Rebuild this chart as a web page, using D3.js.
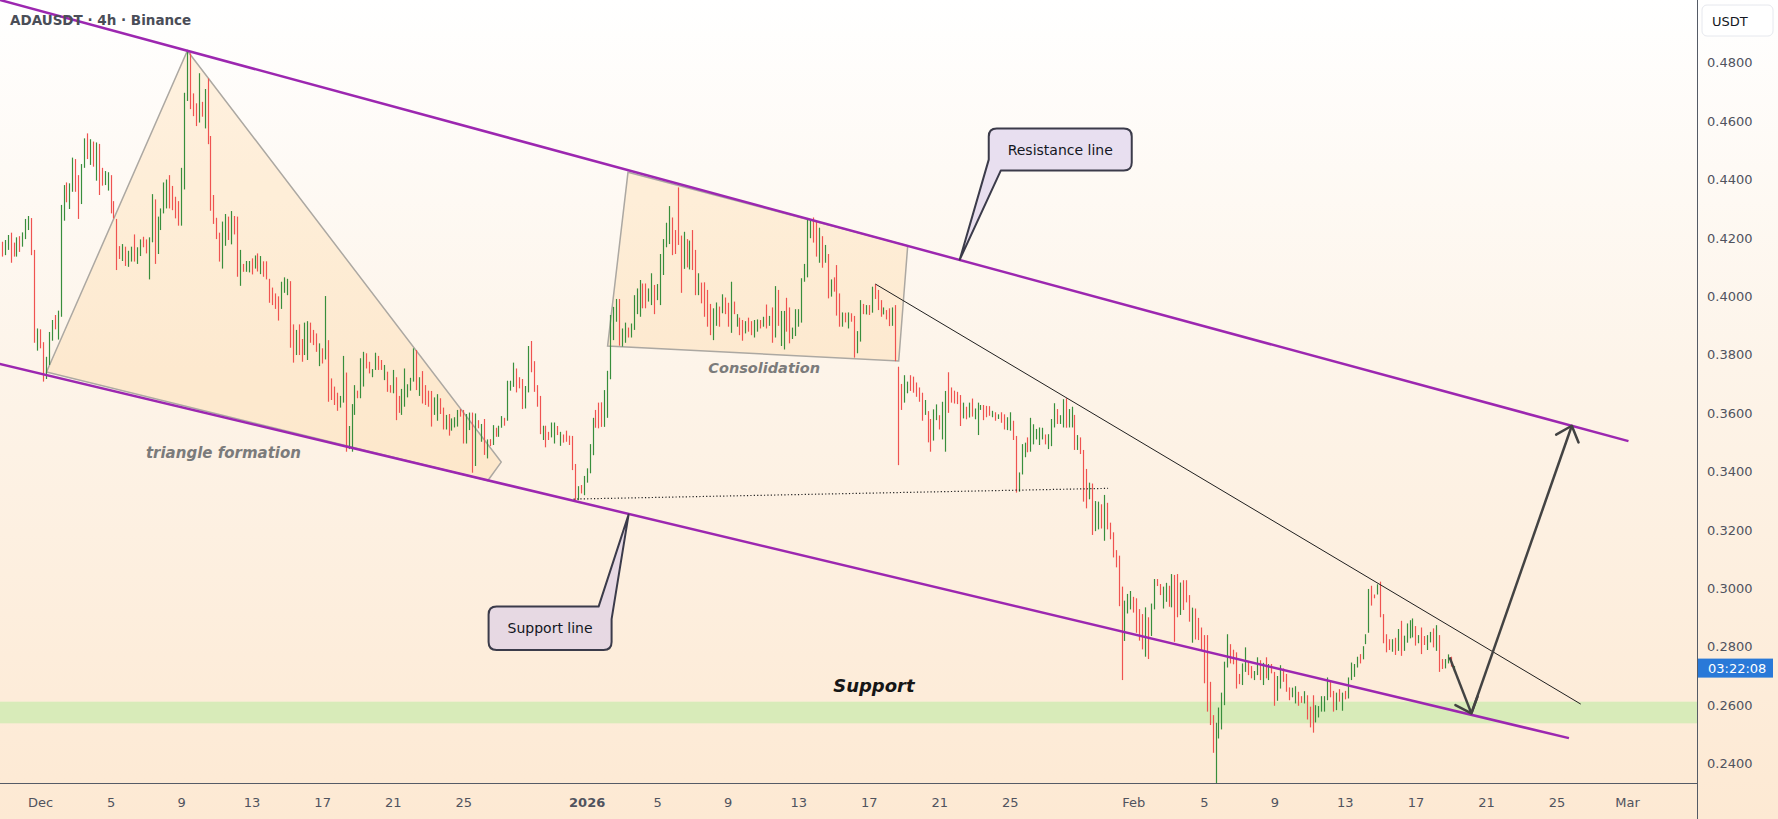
<!DOCTYPE html>
<html>
<head>
<meta charset="utf-8">
<script src="https://cdn.jsdelivr.net/npm/d3@7"></script>
<style>
  body { margin: 0; background: #fff; }
  svg { display: block; }
</style>
</head>
<body>
<svg width="1778" height="819"></svg>
<script>
// ADAUSDT 4h bars. First bar opens 28 Nov 2025 20:00.
var highs = [
  0.4187,0.4193,0.4210,0.4218,0.4184,0.4202,0.4206,0.4219,0.4265,0.4275,
  0.4268,0.4159,0.3890,0.3887,0.3843,0.3793,0.3878,0.3919,0.3936,0.3951,
  0.4313,0.4381,0.4390,0.4387,0.4475,0.4470,0.4415,0.4453,0.4541,0.4558,
  0.4538,0.4530,0.4527,0.4522,0.4440,0.4429,0.4425,0.4415,0.4326,0.4265,
  0.4172,0.4179,0.4170,0.4156,0.4170,0.4212,0.4168,0.4195,0.4204,0.4195,
  0.4202,0.4350,0.4332,0.4273,0.4301,0.4390,0.4400,0.4415,0.4378,0.4341,
  0.4326,0.4440,0.4697,0.4840,0.4832,0.4695,0.4661,0.4764,0.4666,0.4710,
  0.4746,0.4549,0.4347,0.4269,0.4218,0.4256,0.4282,0.4273,0.4292,0.4275,
  0.4273,0.4159,0.4111,0.4121,0.4121,0.4130,0.4140,0.4147,0.4138,0.4120,
  0.4120,0.4060,0.4030,0.4010,0.4000,0.4050,0.4065,0.4060,0.4052,0.3904,
  0.3885,0.3904,0.3854,0.3910,0.3915,0.3910,0.3885,0.3873,0.3839,0.3822,
  0.4001,0.3850,0.3719,0.3691,0.3670,0.3659,0.3796,0.3739,0.3556,0.3631,
  0.3696,0.3677,0.3788,0.3810,0.3805,0.3776,0.3751,0.3807,0.3796,0.3782,
  0.3765,0.3742,0.3696,0.3748,0.3723,0.3659,0.3683,0.3753,0.3699,0.3721,
  0.3822,0.3816,0.3723,0.3744,0.3696,0.3677,0.3676,0.3654,0.3665,0.3651,
  0.3619,0.3594,0.3597,0.3582,0.3586,0.3611,0.3614,0.3611,0.3597,0.3602,
  0.3602,0.3599,0.3576,0.3563,0.3580,0.3510,0.3511,0.3559,0.3550,0.3557,
  0.3590,0.3584,0.3711,0.3711,0.3773,0.3753,0.3723,0.3717,0.3693,0.3830,
  0.3847,0.3778,0.3696,0.3659,0.3557,0.3557,0.3536,0.3568,0.3568,0.3556,
  0.3536,0.3527,0.3540,0.3523,0.3522,0.3426,0.3350,0.3354,0.3385,0.3411,
  0.3494,0.3584,0.3611,0.3636,0.3637,0.3679,0.3745,0.3936,0.3964,0.3991,
  0.3991,0.3890,0.3910,0.3893,0.3907,0.4004,0.4027,0.4056,0.4044,0.4044,
  0.4027,0.4079,0.4039,0.4042,0.4145,0.4196,0.4252,0.4309,0.4270,0.4227,
  0.4373,0.4208,0.4221,0.4196,0.4191,0.4227,0.4159,0.4079,0.4047,0.4048,
  0.4022,0.3974,0.3959,0.3979,0.3965,0.4007,0.3996,0.3978,0.4050,0.3982,
  0.3939,0.3927,0.3919,0.3915,0.3927,0.3915,0.3919,0.3921,0.3919,0.3930,
  0.3972,0.3933,0.3962,0.4035,0.4022,0.3950,0.3950,0.3995,0.3962,0.3893,
  0.3956,0.3956,0.4062,0.4111,0.4267,0.4264,0.4270,0.4258,0.4235,0.4206,
  0.4176,0.4145,0.4058,0.4065,0.4107,0.4010,0.3945,0.3944,0.3945,0.3942,
  0.3933,0.3881,0.3987,0.3974,0.3970,0.3970,0.4033,0.4042,0.4022,0.3987,
  0.3962,0.3953,0.3959,0.3962,0.3970,0.3759,0.3700,0.3730,0.3708,0.3730,
  0.3725,0.3705,0.3688,0.3670,0.3645,0.3607,0.3580,0.3613,0.3630,0.3593,
  0.3639,0.3676,0.3740,0.3688,0.3677,0.3673,0.3662,0.3636,0.3622,0.3636,
  0.3650,0.3616,0.3636,0.3628,0.3628,0.3625,0.3624,0.3608,0.3603,0.3596,
  0.3603,0.3596,0.3586,0.3603,0.3574,0.3522,0.3397,0.3494,0.3499,0.3517,
  0.3584,0.3562,0.3546,0.3551,0.3550,0.3527,0.3528,0.3580,0.3634,0.3614,
  0.3593,0.3648,0.3651,0.3614,0.3622,0.3594,0.3525,0.3517,0.3474,0.3409,
  0.3362,0.3359,0.3299,0.3297,0.3288,0.3320,0.3293,0.3225,0.3192,0.3131,
  0.3112,0.3006,0.2958,0.2981,0.2991,0.2971,0.2966,0.2929,0.2912,0.2935,
  0.2901,0.2948,0.3032,0.3032,0.3015,0.3006,0.3019,0.3009,0.3049,0.3046,
  0.3049,0.3020,0.3028,0.3028,0.2977,0.2934,0.2931,0.2899,0.2866,0.2840,
  0.2840,0.2680,0.2566,0.2540,0.2592,0.2643,0.2749,0.2843,0.2809,0.2790,
  0.2781,0.2707,0.2743,0.2798,0.2749,0.2734,0.2717,0.2764,0.2754,0.2745,
  0.2764,0.2741,0.2741,0.2714,0.2700,0.2737,0.2726,0.2707,0.2661,0.2660,
  0.2665,0.2646,0.2631,0.2648,0.2634,0.2595,0.2634,0.2600,0.2597,0.2631,
  0.2631,0.2695,0.2684,0.2649,0.2643,0.2655,0.2643,0.2649,0.2695,0.2746,
  0.2741,0.2766,0.2775,0.2802,0.2843,0.2998,0.3009,0.2979,0.3014,0.3023,
  0.2912,0.2843,0.2826,0.2826,0.2831,0.2861,0.2889,0.2838,0.2880,0.2891,
  0.2897,0.2871,0.2840,0.2866,0.2837,0.2840,0.2851,0.2863,0.2874,0.2840,
  0.2758,0.2758,0.2774,0.2766,0.2734
];
var lows = [
  0.4136,0.4141,0.4159,0.4115,0.4136,0.4136,0.4152,0.4170,0.4196,0.4227,
  0.4141,0.3841,0.3814,0.3822,0.3708,0.3717,0.3765,0.3848,0.3887,0.3852,
  0.3930,0.4259,0.4322,0.4299,0.4358,0.4358,0.4265,0.4316,0.4440,0.4470,
  0.4450,0.4444,0.4396,0.4347,0.4379,0.4381,0.4362,0.4284,0.4267,0.4090,
  0.4128,0.4121,0.4104,0.4101,0.4119,0.4119,0.4111,0.4138,0.4168,0.4147,
  0.4058,0.4185,0.4111,0.4145,0.4227,0.4284,0.4301,0.4301,0.4295,0.4267,
  0.4242,0.4242,0.4366,0.4669,0.4641,0.4617,0.4583,0.4595,0.4615,0.4575,
  0.4521,0.4293,0.4248,0.4196,0.4119,0.4095,0.4173,0.4193,0.4178,0.4212,
  0.4067,0.4036,0.4084,0.4084,0.4082,0.4075,0.4095,0.4085,0.4076,0.4067,
  0.4058,0.3978,0.3970,0.3957,0.3917,0.3957,0.4012,0.4004,0.3824,0.3773,
  0.3799,0.3799,0.3776,0.3799,0.3782,0.3841,0.3833,0.3810,0.3761,0.3770,
  0.3784,0.3639,0.3645,0.3628,0.3608,0.3619,0.3636,0.3468,0.3477,0.3468,
  0.3594,0.3651,0.3651,0.3691,0.3753,0.3736,0.3723,0.3748,0.3748,0.3748,
  0.3713,0.3673,0.3670,0.3668,0.3576,0.3601,0.3594,0.3622,0.3654,0.3677,
  0.3708,0.3679,0.3659,0.3633,0.3628,0.3622,0.3554,0.3594,0.3574,0.3597,
  0.3544,0.3544,0.3523,0.3540,0.3551,0.3554,0.3588,0.3496,0.3496,0.3542,
  0.3396,0.3419,0.3548,0.3502,0.3457,0.3445,0.3487,0.3491,0.3519,0.3519,
  0.3550,0.3557,0.3574,0.3677,0.3690,0.3671,0.3685,0.3614,0.3616,0.3671,
  0.3740,0.3673,0.3622,0.3528,0.3508,0.3483,0.3508,0.3517,0.3496,0.3525,
  0.3488,0.3499,0.3502,0.3491,0.3405,0.3302,0.3302,0.3325,0.3319,0.3362,
  0.3394,0.3456,0.3550,0.3548,0.3553,0.3553,0.3584,0.3716,0.3850,0.3913,
  0.3831,0.3828,0.3841,0.3859,0.3859,0.3885,0.3939,0.3930,0.3959,0.3959,
  0.3982,0.3970,0.3939,0.3987,0.3970,0.4073,0.4168,0.4179,0.4141,0.4145,
  0.4176,0.4012,0.4094,0.4099,0.4092,0.4090,0.4004,0.4004,0.3976,0.3930,
  0.3896,0.3867,0.3850,0.3899,0.3896,0.3942,0.3939,0.3896,0.3875,0.3939,
  0.3896,0.3867,0.3848,0.3873,0.3879,0.3867,0.3859,0.3879,0.3890,0.3896,
  0.3890,0.3899,0.3841,0.3859,0.3899,0.3830,0.3818,0.3879,0.3839,0.3854,
  0.3864,0.3896,0.3910,0.4050,0.4065,0.4199,0.4184,0.4136,0.4115,0.4098,
  0.4115,0.3993,0.3999,0.4016,0.3934,0.3896,0.3896,0.3911,0.3890,0.3913,
  0.3790,0.3805,0.3845,0.3939,0.3938,0.3936,0.3944,0.3991,0.3953,0.3930,
  0.3938,0.3921,0.3898,0.3899,0.3778,0.3422,0.3611,0.3636,0.3668,0.3676,
  0.3670,0.3656,0.3639,0.3574,0.3594,0.3500,0.3468,0.3506,0.3576,0.3544,
  0.3510,0.3468,0.3601,0.3636,0.3633,0.3631,0.3556,0.3582,0.3579,0.3585,
  0.3588,0.3579,0.3525,0.3611,0.3576,0.3586,0.3591,0.3586,0.3574,0.3580,
  0.3567,0.3544,0.3542,0.3540,0.3508,0.3328,0.3331,0.3390,0.3449,0.3466,
  0.3468,0.3493,0.3510,0.3491,0.3510,0.3493,0.3477,0.3487,0.3551,0.3563,
  0.3563,0.3551,0.3550,0.3551,0.3551,0.3474,0.3474,0.3460,0.3297,0.3274,
  0.3305,0.3183,0.3196,0.3202,0.3205,0.3163,0.3202,0.3168,0.3106,0.3072,
  0.2939,0.2686,0.2820,0.2914,0.2928,0.2917,0.2848,0.2821,0.2791,0.2766,
  0.2758,0.2837,0.2928,0.3008,0.2977,0.2931,0.2954,0.2937,0.2935,0.2817,
  0.2901,0.2909,0.2926,0.2952,0.2886,0.2814,0.2825,0.2823,0.2789,0.2675,
  0.2578,0.2532,0.2437,0.2332,0.2486,0.2517,0.2600,0.2729,0.2743,0.2740,
  0.2657,0.2672,0.2669,0.2714,0.2703,0.2692,0.2686,0.2703,0.2686,0.2669,
  0.2692,0.2686,0.2709,0.2598,0.2615,0.2657,0.2680,0.2646,0.2617,0.2627,
  0.2606,0.2598,0.2608,0.2606,0.2551,0.2524,0.2506,0.2541,0.2558,0.2578,
  0.2578,0.2617,0.2627,0.2578,0.2583,0.2612,0.2581,0.2620,0.2623,0.2686,
  0.2697,0.2729,0.2743,0.2757,0.2809,0.2848,0.2941,0.2966,0.2979,0.2901,
  0.2812,0.2781,0.2789,0.2783,0.2772,0.2786,0.2769,0.2786,0.2814,0.2829,
  0.2832,0.2804,0.2812,0.2775,0.2806,0.2789,0.2815,0.2798,0.2786,0.2714,
  0.2724,0.2726,0.2743,0.2732,0.2714
];
// g = bar closed up, r = bar closed down
var barDirs =
  "rggrrgrggg" + "rrgrrgggrg" + "ggrggrrggr" + "grgrrggrrr" + "rgrggrggrr" +
  "ggrggggrrr" + "rgggrrrgrg" + "rrrrrggrgr" + "rgrggrgrgr" + "rrrrrgggrr" +
  "grrggrrrgr" + "grrrrggrgg" + "grggrrggrr" + "grrgrrgggg" + "grgrrrrggr" +
  "rgrgggrrgg" + "rgrgrgrgrg" + "grgggrrrgg" + "rrrrgrrggr" + "grrrrrgrgg" +
  "ggrrrggggg" + "rggrggggrr" + "ggrgggggrr" + "rrgrgrrgrr" + "rrggrgrrgr" +
  "grrgrrggrg" + "rgrgrggrrg" + "ggggggrrgr" + "grgrrrgrgr" + "rggrgrgrrr" +
  "grrgrrrggr" + "rrrrgrrggr" + "ggrrrrrgrg" + "rgggrrrgrg" + "rrggrrgggr" +
  "gggggrgggr" + "ggrggrgrrr" + "grggrgrrrr" + "rrgggrrrrg" + "rggrrggrgr" +
  "rgrrrgrrrr" + "rrrgggggrr" + "rrggrrggrg" + "rgrrggrrrg" + "grrgrrrggg" +
  "ggrrgrgrgg" + "ggrgggrrgr" + "rrrgrgrggg" + "grgrrggrgr" + "rggrg";

var firstBar = Date.UTC(2025, 10, 28, 20);
var barHours = 4;
var lastPrice = 0.2727;
var countdown = "03:22:08";

var priceTicks = [0.24, 0.26, 0.28, 0.30, 0.32, 0.34, 0.36, 0.38, 0.40, 0.42, 0.44, 0.46, 0.48];
var dateTicks = ["2025-12-01","2025-12-05","2025-12-09","2025-12-13","2025-12-17","2025-12-21","2025-12-25",
                 "2026-01-01","2026-01-05","2026-01-09","2026-01-13","2026-01-17","2026-01-21","2026-01-25",
                 "2026-02-01","2026-02-05","2026-02-09","2026-02-13","2026-02-17","2026-02-21","2026-02-25","2026-03-01"];
var dateLabels = ["Dec","5","9","13","17","21","25","2026","5","9","13","17","21","25","Feb","5","9","13","17","21","25","Mar"];

// drawings, as [time, price]
var resistanceLine = [["2025-11-28T12:00Z", 0.50185], ["2026-03-01T02:00Z", 0.35041]];
var supportLine = [["2025-11-28T12:00Z", 0.37716], ["2026-02-25T17:00Z", 0.24873]];
var triangleShape = [["2025-12-01T08:51Z", 0.37407], ["2025-12-09T08:34Z", 0.48411], ["2025-12-27T03:45Z", 0.34325], ["2025-12-26T09:36Z", 0.33692]];
var consolidationShape = [["2026-01-03T08:17Z", 0.44247], ["2026-01-19T05:00Z", 0.41733], ["2026-01-18T16:45Z", 0.37784], ["2026-01-02T04:32Z", 0.38298]];
var trendLine = [["2026-01-17T09:02Z", 0.40421], ["2026-02-26T09:02Z", 0.26038]];
var dottedLine = [["2025-12-31T06:14Z", 0.33058], ["2026-01-30T13:42Z", 0.33425]];
var forecastPath = [["2026-02-18T22:35Z", 0.27637], ["2026-02-20T04:12Z", 0.25719], ["2026-02-25T20:53Z", 0.35568]];
var supportZone = [0.2538, 0.2612];
var resistanceTip = ["2026-01-22T03:50Z", 0.41257];
var supportTip = ["2026-01-03T09:06Z", 0.32527];
var notes = [
  { text: "triangle formation", at: ["2025-12-11T09:40Z", 0.34634], size: 15, color: "#7b7b7b" },
  { text: "Consolidation", at: ["2026-01-11T01:40Z", 0.37545], size: 14.5, color: "#7b7b7b" },
  { text: "Support", at: ["2026-01-17T07:00Z", 0.26654], size: 18, color: "#161616" }
];

var svg = d3.select("svg"),
    width = +svg.attr("width"),
    height = +svg.attr("height");
var plotW = 1697, plotH = 783;
var font = "'DejaVu Sans', Verdana, sans-serif";
var upColor = "#388e3c", downColor = "#ef5350", purple = "#9c27b0";

var x = d3.scaleUtc()
    .domain([new Date("2025-12-01T00:00Z"), new Date("2026-03-01T00:00Z")])
    .range([40, 1627]);
var y = d3.scaleLinear().domain([0.24, 0.48]).range([763.6, 62.7]);

function pt(d) { return [x(new Date(d[0])), y(d[1])]; }

// background
var defs = svg.append("defs");
var grad = defs.append("linearGradient").attr("id", "bg").attr("x1", 0).attr("y1", 0).attr("x2", 0).attr("y2", 1);
grad.append("stop").attr("offset", "0%").attr("stop-color", "#ffffff");
grad.append("stop").attr("offset", "45%").attr("stop-color", "#fdf4e9");
grad.append("stop").attr("offset", "100%").attr("stop-color", "#fde9d3");
defs.append("clipPath").attr("id", "plot").append("rect").attr("width", plotW).attr("height", plotH);

svg.append("rect").attr("width", width).attr("height", height).attr("fill", "url(#bg)");

var plot = svg.append("g").attr("clip-path", "url(#plot)");

// support zone
plot.append("rect")
    .attr("x", 0).attr("width", plotW)
    .attr("y", y(supportZone[1]))
    .attr("height", y(supportZone[0]) - y(supportZone[1]))
    .attr("fill", "#d8ebb9");

// shaded shapes
[triangleShape, consolidationShape].forEach(function(shape) {
    plot.append("path")
        .attr("d", d3.line()(shape.map(pt)) + "Z")
        .attr("fill", "rgba(255,183,77,0.16)")
        .attr("stroke", "#aca8a2")
        .attr("stroke-width", 1.5);
});

// bars
plot.append("g").selectAll("line")
    .data(highs)
    .join("line")
    .attr("x1", function(d, i) { return Math.round(x(new Date(firstBar + i * barHours * 3600e3))) + 0.5; })
    .attr("x2", function(d, i) { return Math.round(x(new Date(firstBar + i * barHours * 3600e3))) + 0.5; })
    .attr("y1", function(d) { return y(d); })
    .attr("y2", function(d, i) { return Math.max(y(lows[i]), y(d) + 1); })
    .attr("stroke", function(d, i) { return barDirs[i] === "g" ? upColor : downColor; })
    .attr("stroke-width", 1.2);

// channel
[resistanceLine, supportLine].forEach(function(l) {
    plot.append("path").attr("d", d3.line()(l.map(pt)))
        .attr("stroke", purple).attr("stroke-width", 2.5).attr("fill", "none");
});

plot.append("path").attr("d", d3.line()(trendLine.map(pt)))
    .attr("stroke", "#1f1f1f").attr("stroke-width", 1).attr("fill", "none");
plot.append("path").attr("d", d3.line()(dottedLine.map(pt)))
    .attr("stroke", "#1f1f1f").attr("stroke-width", 1.2).attr("stroke-dasharray", "1.2,2.2").attr("fill", "none");

// forecast arrows
function arrowHead(from, to) {
    var a = Math.atan2(from[1] - to[1], from[0] - to[0]), s = 0.72, L = 18;
    return [[to[0] + L * Math.cos(a + s), to[1] + L * Math.sin(a + s)], to,
            [to[0] + L * Math.cos(a - s), to[1] + L * Math.sin(a - s)]];
}
var fp = forecastPath.map(pt);
for (var k = 0; k < fp.length - 1; k++) {
    plot.append("path").attr("d", d3.line()([fp[k], fp[k + 1]]))
        .attr("stroke", "#434343").attr("stroke-width", 2.5).attr("fill", "none");
    plot.append("path").attr("d", d3.line()(arrowHead(fp[k], fp[k + 1])))
        .attr("stroke", "#434343").attr("stroke-width", 2.5).attr("fill", "none")
        .attr("stroke-linecap", "round").attr("stroke-linejoin", "round");
}

// callouts
var rt = pt(resistanceTip);
var rb = { x0: rt[0] + 29, x1: rt[0] + 172, y0: rt[1] - 131, y1: rt[1] - 89 }, r = 8;
var rPath = "M" + (rb.x0 + r) + "," + rb.y0 + "H" + (rb.x1 - r) +
    "Q" + rb.x1 + "," + rb.y0 + " " + rb.x1 + "," + (rb.y0 + r) + "V" + (rb.y1 - r) +
    "Q" + rb.x1 + "," + rb.y1 + " " + (rb.x1 - r) + "," + rb.y1 + "H" + (rb.x0 + 12) +
    "L" + rt[0] + "," + rt[1] + "L" + rb.x0 + "," + (rb.y1 - 11) + "V" + (rb.y0 + r) +
    "Q" + rb.x0 + "," + rb.y0 + " " + (rb.x0 + r) + "," + rb.y0 + "Z";
var st = pt(supportTip);
var sb = { x0: st[0] - 140, x1: st[0] - 17, y0: st[1] + 92, y1: st[1] + 135.5 };
var sPath = "M" + (sb.x0 + r) + "," + sb.y0 + "H" + (sb.x1 - 13) +
    "L" + st[0] + "," + st[1] + "L" + sb.x1 + "," + (sb.y0 + 12.5) + "V" + (sb.y1 - r) +
    "Q" + sb.x1 + "," + sb.y1 + " " + (sb.x1 - r) + "," + sb.y1 + "H" + (sb.x0 + r) +
    "Q" + sb.x0 + "," + sb.y1 + " " + sb.x0 + "," + (sb.y1 - r) + "V" + (sb.y0 + r) +
    "Q" + sb.x0 + "," + sb.y0 + " " + (sb.x0 + r) + "," + sb.y0 + "Z";
[[rPath, rb, "Resistance line"], [sPath, sb, "Support line"]].forEach(function(c) {
    svg.append("path").attr("d", c[0])
        .attr("fill", "rgba(209,196,233,0.5)")
        .attr("stroke", "#3b3b4a").attr("stroke-width", 2).attr("stroke-linejoin", "round");
    svg.append("text")
        .attr("x", (c[1].x0 + c[1].x1) / 2).attr("y", (c[1].y0 + c[1].y1) / 2)
        .attr("dy", "0.35em").attr("text-anchor", "middle")
        .attr("font-family", font).attr("font-size", 14).attr("fill", "#131722")
        .text(c[2]);
});

// pattern notes
notes.forEach(function(n) {
    var p = pt(n.at);
    svg.append("text").attr("x", p[0]).attr("y", p[1]).attr("dy", "0.35em")
        .attr("text-anchor", "middle")
        .attr("font-family", font).attr("font-size", n.size)
        .attr("font-weight", "bold").attr("font-style", "italic")
        .attr("fill", n.color).text(n.text);
});

// axes
var xAxis = svg.append("g")
    .attr("transform", "translate(0," + plotH + ")")
    .call(d3.axisBottom(x)
        .tickValues(dateTicks.map(function(d) { return new Date(d + "T00:00Z"); }))
        .tickFormat(function(d, i) { return dateLabels[i]; })
        .tickSize(0).tickPadding(15));
xAxis.select(".domain").remove();
xAxis.selectAll("text")
    .attr("font-family", font).attr("font-size", 13).attr("fill", "#50535e")
    .attr("font-weight", function(d, i) { return dateLabels[i] === "2026" ? "bold" : "normal"; });

var yAxis = svg.append("g")
    .attr("transform", "translate(" + plotW + ",0)")
    .call(d3.axisRight(y).tickValues(priceTicks).tickFormat(d3.format(".4f")).tickSize(0).tickPadding(10));
yAxis.select(".domain").remove();
yAxis.selectAll("text").attr("font-family", font).attr("font-size", 13).attr("fill", "#50535e");

svg.append("line").attr("x1", 0).attr("x2", plotW).attr("y1", plotH + 0.5).attr("y2", plotH + 0.5)
    .attr("stroke", "#555b66");
svg.append("line").attr("x1", plotW + 0.5).attr("x2", plotW + 0.5).attr("y1", 0).attr("y2", height)
    .attr("stroke", "#555b66");

// currency box
svg.append("rect").attr("x", 1702).attr("y", 5).attr("width", 71).attr("height", 31).attr("rx", 5)
    .attr("fill", "#ffffff").attr("stroke", "#e6e8ee");
svg.append("text").attr("x", 1712).attr("y", 21).attr("dy", "0.35em")
    .attr("font-family", font).attr("font-size", 13).attr("fill", "#131722").text("USDT");

// countdown label
svg.append("rect").attr("x", plotW + 1).attr("y", y(lastPrice) - 9.5).attr("width", 75).attr("height", 19)
    .attr("fill", "#2979d8");
svg.append("text").attr("x", 1708).attr("y", y(lastPrice)).attr("dy", "0.35em")
    .attr("font-family", font).attr("font-size", 13).attr("fill", "#ffffff").text(countdown);

// title
svg.append("text").attr("x", 10).attr("y", 20).attr("dy", "0.35em")
    .attr("font-family", font).attr("font-size", 13.5).attr("font-weight", "bold")
    .attr("fill", "#4a4d57").text("ADAUSDT · 4h · Binance");
</script>
</body>
</html>
